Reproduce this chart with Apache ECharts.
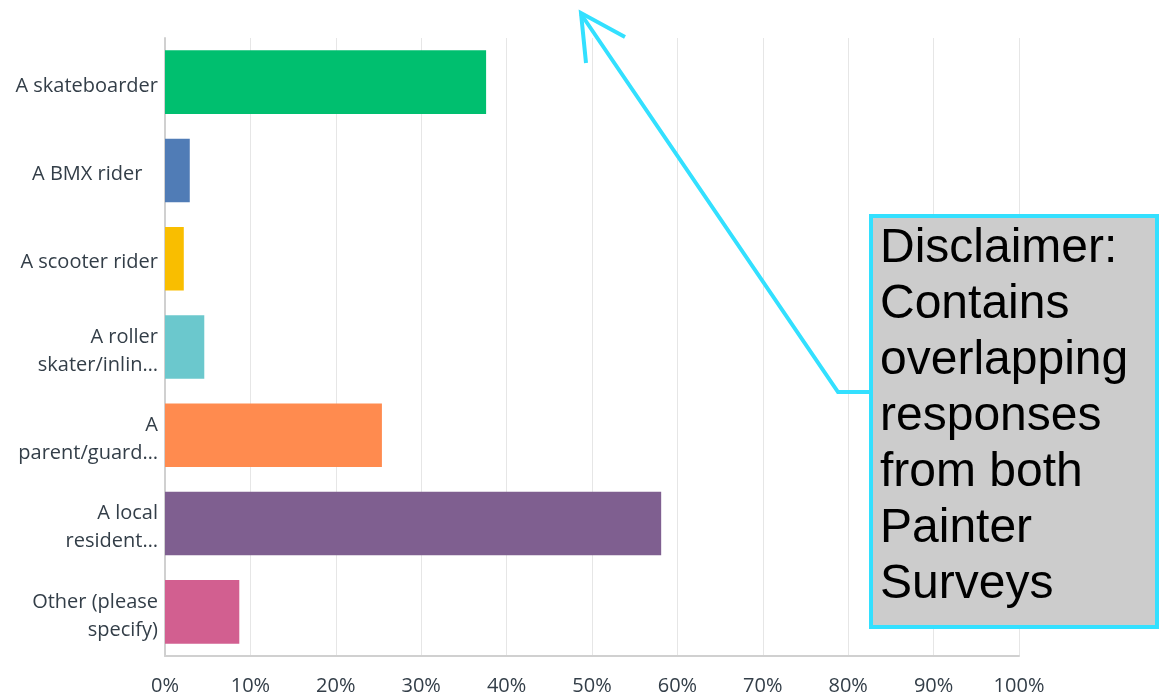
<!DOCTYPE html>
<html>
<head>
<meta charset="utf-8">
<script src="https://cdn.jsdelivr.net/npm/echarts@6/dist/echarts.min.js"></script>
<style>
  html, body { margin: 0; padding: 0; background: #fff; }
  #chart { width: 1159px; height: 696px; }
</style>
</head>
<body>
<div id="chart"></div>
<script>
const categories = [
  'A skateboarder',
  'A BMX rider   ',
  'A scooter rider',
  'A roller\nskater/inlin…',
  'A\nparent/guard…',
  'A local\nresident…',
  'Other (please\nspecify)'
];
const values = [37.6, 2.9, 2.2, 4.6, 25.4, 58.1, 8.7];
const barColors = ['#00bf6f', '#507cb6', '#f9be00', '#6bc8cd', '#ff8b4f', '#7f5f90', '#d25f90'];
const noteLines = ['Disclaimer:', 'Contains', 'overlapping', 'responses', 'from both', 'Painter', 'Surveys'];

const chart = echarts.init(document.getElementById('chart'));
chart.setOption({
  animation: false,
  textStyle: { fontFamily: '"Open Sans", sans-serif' },
  grid: { left: 165, right: 140, top: 38, bottom: 38 },
  xAxis: {
    type: 'value',
    min: 0,
    max: 100,
    interval: 10,
    axisLine: { show: true, lineStyle: { color: '#d0d0d0', width: 2 } },
    axisTick: { show: false },
    axisLabel: { color: '#333e48', fontSize: 20, margin: 20, formatter: '{value}%' },
    splitLine: { show: true, lineStyle: { color: '#e6e6e6', width: 1 } }
  },
  yAxis: {
    type: 'category',
    inverse: true,
    data: categories,
    axisLine: { show: true, lineStyle: { color: '#d0d0d0', width: 2 } },
    axisTick: { show: false },
    axisLabel: {
      color: '#333e48',
      fontSize: 20,
      lineHeight: 28,
      margin: 7,
      formatter: v => v.split('\n').map(s => '{t|' + s + '}').join('\n'),
      rich: {
        t: { color: '#333e48', fontSize: 20, lineHeight: 28, verticalAlign: 'bottom', padding: [6, 0, 0, 0] }
      }
    }
  },
  series: [{
    type: 'bar',
    data: values.map((v, i) => ({ value: v, itemStyle: { color: barColors[i] } })),
    barCategoryGap: '28%'
  }],
  graphic: [
    {
      type: 'polyline',
      z: 100,
      shape: { points: [[870, 392], [838, 392], [581, 14]] },
      style: { stroke: '#33e0ff', lineWidth: 4, fill: null }
    },
    {
      type: 'polyline',
      z: 100,
      shape: { points: [[586, 63], [581, 13], [625, 37]] },
      style: { stroke: '#33e0ff', lineWidth: 4, fill: null }
    },
    {
      type: 'rect',
      z: 100,
      shape: { x: 871, y: 216, width: 286, height: 411 },
      style: { fill: '#cccccc', stroke: '#33e0ff', lineWidth: 4 }
    },
    {
      type: 'text',
      z: 101,
      x: 880,
      y: 221,
      style: {
        text: noteLines.join('\n'),
        font: '48px "Liberation Sans", Arial, sans-serif',
        lineHeight: 56,
        fill: '#000'
      }
    }
  ]
});
</script>
</body>
</html>
